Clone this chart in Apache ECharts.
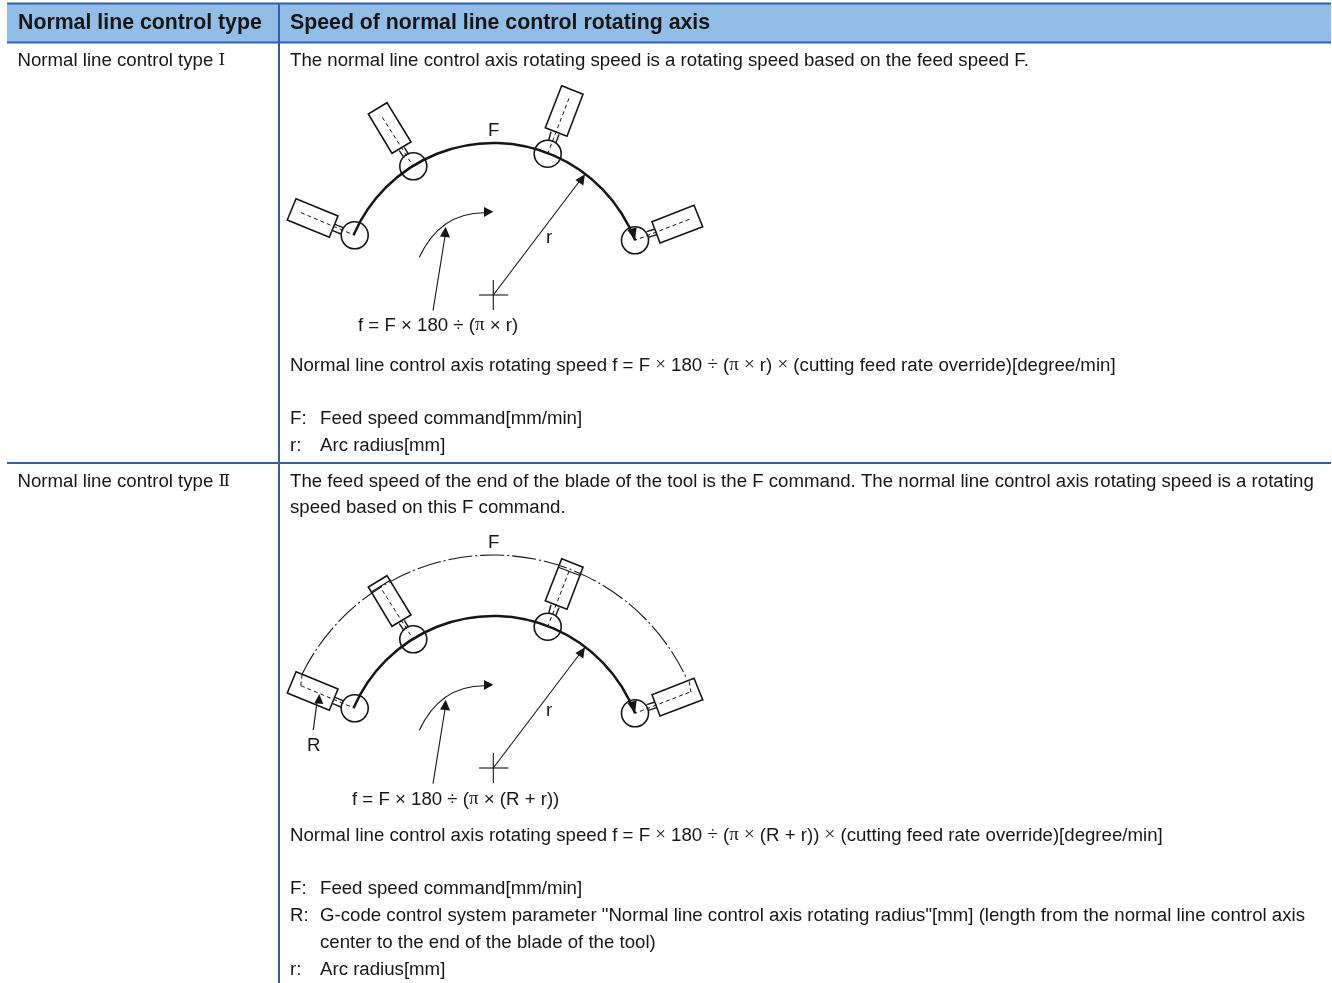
<!DOCTYPE html>
<html>
<head>
<meta charset="utf-8">
<title>Normal line control type</title>
<script src="https://cdn.jsdelivr.net/npm/echarts@6/dist/echarts.min.js"></script>
<style>
  html, body { margin: 0; padding: 0; background: #fff; }
  #main { width: 1332px; height: 983px; }
</style>
</head>
<body>
<div id="main"></div>
<script>
// table
const headerBand = [7, 3, 1331, 43];
const tableLines = [
  [[7, 3.5], [1331, 3.5]],
  [[7, 42.5], [1331, 42.5]],
  [[7, 463], [1331, 463]],
  [[279, 3], [279, 983]]
];

// text: x, y (middle), string
const headerTexts = [
  [18, 23.5, 'Normal line control type'],
  [290, 23.5, 'Speed of normal line control rotating axis']
];
const bodyTexts = [
  [17.5, 60.5, 'Normal line control type {j|Ⅰ}'],
  [290, 60.5, 'The normal line control axis rotating speed is a rotating speed based on the feed speed F.'],
  [290, 365.5, 'Normal line control axis rotating speed f = F {s|×} 180 {s|÷} ({s|π} {s|×} r) {s|×} (cutting feed rate override)[degree/min]'],
  [290, 418.5, 'F:'],
  [320, 418.5, 'Feed speed command[mm/min]'],
  [290, 445.5, 'r:'],
  [320, 445.5, 'Arc radius[mm]'],
  [17.5, 481.5, 'Normal line control type {j|Ⅱ}'],
  [290, 481.5, 'The feed speed of the end of the blade of the tool is the F command. The normal line control axis rotating speed is a rotating'],
  [290, 507.5, 'speed based on this F command.'],
  [290, 835.5, 'Normal line control axis rotating speed f = F {s|×} 180 {s|÷} ({s|π} {s|×} (R + r)) {s|×} (cutting feed rate override)[degree/min]'],
  [290, 888.5, 'F:'],
  [320, 888.5, 'Feed speed command[mm/min]'],
  [290, 915.5, 'R:'],
  [320, 915.5, 'G-code control system parameter "Normal line control axis rotating radius"[mm] (length from the normal line control axis'],
  [320, 942.5, 'center to the end of the blade of the tool)'],
  [290, 969.5, 'r:'],
  [320, 969.5, 'Arc radius[mm]'],
  [358, 325.5, 'f = F × 180 ÷ ({s|π} × r)'],
  [352, 799.5, 'f = F × 180 ÷ ({s|π} × (R + r))'],
  [488, 130.5, 'F'],
  [488, 542.5, 'F'],
  [546, 237.5, 'r'],
  [546, 710.5, 'r'],
  [307, 745.5, 'R']
];

// diagram geometry, drawn once per vertical offset
const diagramOffsets = [0, 473];
const arcCenter = [493.3, 295];
const arcRadius = 152;
const arcEnds = [[354.7, 235.3], [635, 240.3]];
const circleCenters = [[354.7, 235.3], [413.3, 166.3], [547.7, 153.7], [635, 240.3]];
const circleRadius = 13.5;
const toolBodies = [
  [[296, 198.7], [338, 216], [329.3, 237.3], [287.3, 220]],
  [[387, 102.7], [411, 142], [392, 153.3], [368.3, 114]],
  [[561.7, 85.7], [583, 94.3], [567, 136.3], [545.3, 127.7]],
  [[652, 221.7], [694, 205.3], [702.7, 226.7], [660, 243]]
];
const toolNecks = [
  [[335, 224.3], [343.6, 227.8]],
  [[332.7, 230.7], [341, 234]],
  [[399.3, 150.7], [404, 157.7]],
  [[404.3, 147.4], [408.6, 154.3]],
  [[551, 131.7], [548.6, 140.8]],
  [[559, 134.6], [555.7, 143]],
  [[646.7, 231.7], [655, 229]],
  [[648.3, 237.3], [656.7, 234.7]]
];
const toolCenterlines = [
  [[301, 212.7], [354.7, 235.3]],
  [[382.3, 117.3], [413.3, 166.3]],
  [[569, 98.3], [547.7, 153.7]],
  [[689.3, 219.3], [635, 240.3]]
];
const feedCurve = [[419.3, 257.3], [439.8, 213], [484, 212.7]];
const thinLines = [
  [[433, 310.7], [445.7, 232]],
  [[493.3, 295], [580, 180.5]],
  [[479, 295], [508.3, 295]],
  [[493.3, 280], [493.3, 310]]
];
const arrowHeads = [
  [[493.3, 211.7], [484, 207], [484, 217]],
  [[445.7, 226.7], [440, 236.5], [450, 237.5]],
  [[585, 174.3], [575.3, 180], [583.3, 185.5]],
  [[635, 240.3], [627.3, 230], [636.7, 227.3]]
];

// only in the lower diagram (absolute page coordinates)
const outerArcRadius = 213;
const outerArcCenter = [493.3, 768];
const outerArcEnds = [[302.2, 674], [686.7, 679]];
const lowerExtraLines = [
  [[371.7, 591.7], [390.7, 580]],
  [[558.3, 567.3], [580.7, 575.7]],
  [[313.3, 730], [317, 702]]
];
const lowerExtraDashes = [
  [[300.7, 685.5], [302.2, 674]],
  [[691, 692.3], [689, 680]]
];
const lowerArrowHead = [[319.3, 694], [314.3, 703.3], [323.3, 704]];

const INK = '#161616';
const BODY_FONT = '"Liberation Sans", Arial, sans-serif';
const richStyles = {
  s: { fontFamily: '"Liberation Serif", serif', fontSize: 19, fill: INK },
  j: { fontFamily: '"DejaVu Serif", serif', fontSize: 17, fill: INK }
};

const chart = echarts.init(document.getElementById('main'));

function shifted(pts, dy) {
  return pts.map(p => [p[0], p[1] + dy]);
}
function angleOf(center, p) {
  return Math.atan2(p[1] - center[1], p[0] - center[0]);
}

function polylineEl(api, pts, style) {
  return { type: 'polyline', shape: { points: pts.map(p => api.coord(p)) }, style: Object.assign({ fill: null, stroke: INK, lineWidth: 1 }, style) };
}
function polygonEl(api, pts, style) {
  return { type: 'polygon', shape: { points: pts.map(p => api.coord(p)) }, style: Object.assign({ fill: INK }, style) };
}
function arcEl(api, center, r, ends, style) {
  const c = api.coord(center);
  return {
    type: 'arc',
    shape: { cx: c[0], cy: c[1], r: api.size([r, 0])[0], startAngle: angleOf(center, ends[0]), endAngle: angleOf(center, ends[1]), clockwise: true },
    style: Object.assign({ fill: null, stroke: INK, lineWidth: 1 }, style)
  };
}

function renderDiagram(params, api) {
  const dy = diagramOffsets[params.dataIndex];
  const children = [];
  const dash = { lineDash: [4, 3], lineWidth: 1 };
  toolCenterlines.forEach(l => children.push(polylineEl(api, shifted(l, dy), dash)));
  children.push(arcEl(api, [arcCenter[0], arcCenter[1] + dy], arcRadius, shifted(arcEnds, dy), { lineWidth: 2.5 }));
  circleCenters.forEach(c => {
    const p = api.coord([c[0], c[1] + dy]);
    children.push({ type: 'circle', shape: { cx: p[0], cy: p[1], r: api.size([circleRadius, 0])[0] }, style: { fill: null, stroke: INK, lineWidth: 1.6 } });
  });
  toolBodies.forEach(b => children.push(polygonEl(api, shifted(b, dy), { fill: null, stroke: INK, lineWidth: 1.6 })));
  toolNecks.forEach(l => children.push(polylineEl(api, shifted(l, dy), { lineWidth: 1.4 })));
  thinLines.forEach(l => children.push(polylineEl(api, shifted(l, dy), { lineWidth: 1.1 })));
  const q = shifted(feedCurve, dy).map(p => api.coord(p));
  children.push({ type: 'bezierCurve', shape: { x1: q[0][0], y1: q[0][1], cpx1: q[1][0], cpy1: q[1][1], x2: q[2][0], y2: q[2][1] }, style: { fill: null, stroke: INK, lineWidth: 1.1 } });
  arrowHeads.forEach(a => children.push(polygonEl(api, shifted(a, dy))));
  return { type: 'group', children: children };
}

function renderLowerExtras(params, api) {
  const children = [];
  children.push(arcEl(api, outerArcCenter, outerArcRadius, outerArcEnds, { lineWidth: 1.1, lineDash: [24, 3, 2, 3] }));
  lowerExtraLines.forEach(l => children.push(polylineEl(api, l, { lineWidth: 1.2 })));
  lowerExtraDashes.forEach(l => children.push(polylineEl(api, l, { lineWidth: 1, lineDash: [4, 3] })));
  children.push(polygonEl(api, lowerArrowHead));
  return { type: 'group', children: children };
}

function textSeries(name, rows, fontWeight, fontSize) {
  return {
    name: name,
    type: 'custom',
    silent: true,
    clip: false,
    data: rows.map(r => [r[0], r[1]]),
    renderItem: function (params, api) {
      const r = rows[params.dataIndex];
      const p = api.coord([r[0], r[1]]);
      return {
        type: 'text',
        x: p[0],
        y: p[1],
        style: { text: r[2], fontFamily: BODY_FONT, fontSize: fontSize, fontWeight: fontWeight, fill: INK, verticalAlign: 'middle', rich: richStyles }
      };
    }
  };
}

const option = {
  animation: false,
  backgroundColor: '#ffffff',
  grid: { left: 0, right: 0, top: 0, bottom: 0 },
  xAxis: { type: 'value', min: 0, max: 1332, show: false },
  yAxis: { type: 'value', min: 0, max: 983, inverse: true, show: false },
  series: [
    {
      name: 'band',
      type: 'custom',
      silent: true,
      data: [[headerBand[0], headerBand[1]]],
      renderItem: function (params, api) {
        const a = api.coord([headerBand[0], headerBand[1]]);
        const b = api.coord([headerBand[2], headerBand[3]]);
        return { type: 'rect', shape: { x: a[0], y: a[1], width: b[0] - a[0], height: b[1] - a[1] }, style: { fill: '#92bde6' } };
      }
    },
    {
      name: 'rules',
      type: 'custom',
      silent: true,
      data: tableLines.map(l => l[0]),
      renderItem: function (params, api) {
        return polylineEl(api, tableLines[params.dataIndex], { stroke: '#2f60ae', lineWidth: 2 });
      }
    },
    textSeries('header', headerTexts, 'bold', 21.3),
    textSeries('body', bodyTexts, 'normal', 18.65),
    {
      name: 'diagram',
      type: 'custom',
      silent: true,
      clip: false,
      data: diagramOffsets.map(d => [0, d]),
      renderItem: renderDiagram
    },
    {
      name: 'lower',
      type: 'custom',
      silent: true,
      clip: false,
      data: [[0, 0]],
      renderItem: renderLowerExtras
    }
  ]
};
chart.setOption(option);
</script>
</body>
</html>
